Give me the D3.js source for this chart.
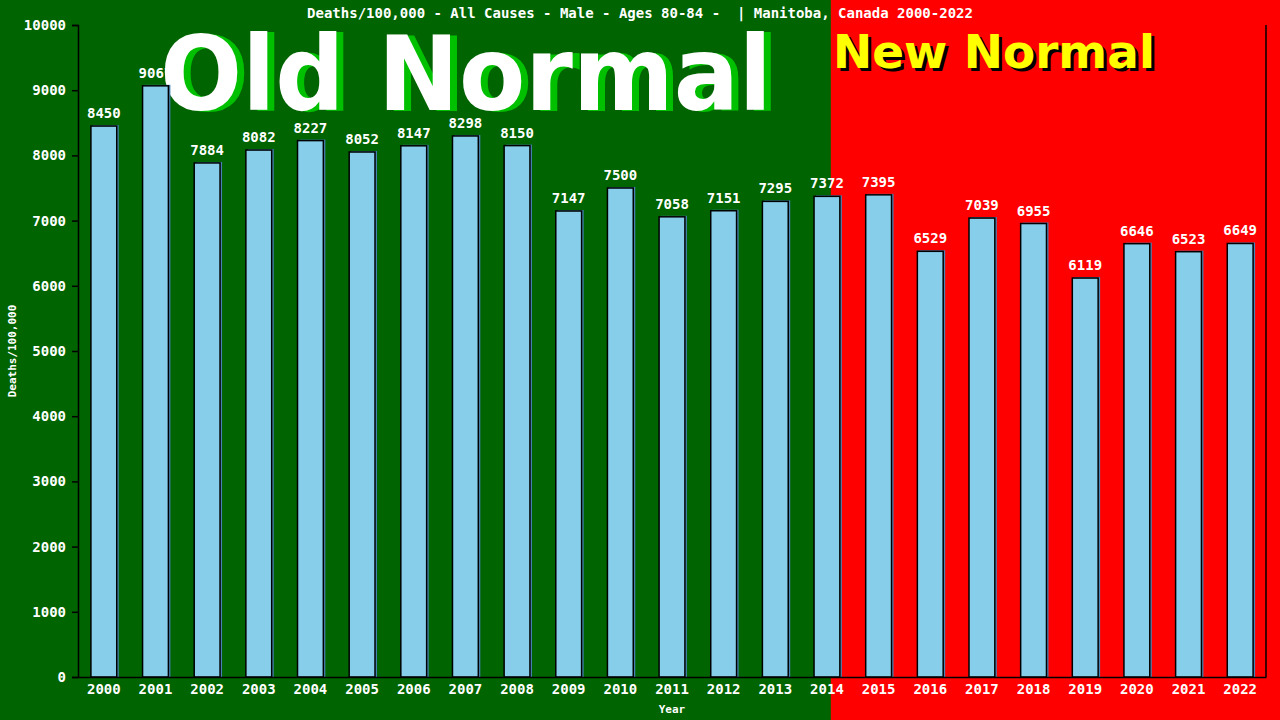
<!DOCTYPE html>
<html>
<head>
<meta charset="utf-8">
<script src="https://cdn.jsdelivr.net/npm/d3@7"></script>
<style>
  body { margin: 0; background: #006400; }
  svg { display: block; }
</style>
</head>
<body>
<div id="chart"></div>
<script>
const years = ["2000","2001","2002","2003","2004","2005","2006","2007","2008","2009","2010","2011",
               "2012","2013","2014","2015","2016","2017","2018","2019","2020","2021","2022"];
const deaths = [8450, 9067, 7884, 8082, 8227, 8052, 8147, 8298, 8150, 7147, 7500, 7058,
                7151, 7295, 7372, 7395, 6529, 7039, 6955, 6119, 6646, 6523, 6649];
const yTicks = [0, 1000, 2000, 3000, 4000, 5000, 6000, 7000, 8000, 9000, 10000];
const titleText = "Deaths/100,000 - All Causes - Male - Ages 80-84 -  | Manitoba, Canada 2000-2022";

const width = 1280;
const height = 720;
const margin = { top: 25, right: 14, bottom: 43, left: 78 };
const mono = "'DejaVu Sans Mono', monospace";

const data = years.map((y, i) => ({ year: y, value: deaths[i] }));

const x = d3.scaleBand()
    .domain(years)
    .range([margin.left, width - margin.right])
    .paddingInner(0.5)
    .paddingOuter(0.25);

const y = d3.scaleLinear()
    .domain([0, 10000])
    .range([height - margin.bottom, margin.top]);

const svg = d3.create("svg")
    .attr("width", width)
    .attr("height", height)
    .attr("viewBox", [0, 0, width, height]);

// background: old normal (green) / new normal (red)
const split = x("2014") + x.bandwidth() * 0.65;
svg.append("rect")
    .attr("x", 0).attr("y", 0)
    .attr("width", split).attr("height", height)
    .attr("fill", "#006400");
svg.append("rect")
    .attr("x", split).attr("y", 0)
    .attr("width", width - split).attr("height", height)
    .attr("fill", "#ff0000");

// value labels (drawn under the big words, like the original)
svg.append("g")
    .selectAll("text")
    .data(data)
    .join("text")
    .attr("x", d => x(d.year) + x.bandwidth() / 2)
    .attr("y", d => y(d.value) - 8)
    .attr("text-anchor", "middle")
    .attr("font-family", mono)
    .attr("font-weight", "bold")
    .attr("font-size", 14)
    .attr("fill", "#ffffff")
    .text(d => d.value);

// big overlay words
function bigWord(txt, x0, y0, size, len, fill, dx, dy, shadow) {
    [[dx, dy, shadow], [0, 0, fill]].forEach(([ox, oy, c]) => {
        svg.append("text")
            .attr("x", x0 + ox).attr("y", y0 + oy)
            .attr("font-family", "'DejaVu Sans', sans-serif")
            .attr("font-weight", "bold")
            .attr("font-size", size)
            .attr("textLength", len)
            .attr("lengthAdjust", "spacingAndGlyphs")
            .attr("fill", c)
            .text(txt);
    });
}
bigWord("Old Normal", 160, 110, 104, 612, "#ffffff", 7, 1, "#00c000");
bigWord("New Normal", 833, 68, 47, 322, "#ffff00", 3, 3, "#000000");

// title
svg.append("text")
    .attr("x", 640).attr("y", 18)
    .attr("text-anchor", "middle")
    .attr("xml:space", "preserve")
    .style("white-space", "pre")
    .attr("font-family", mono)
    .attr("font-weight", "bold")
    .attr("font-size", 14)
    .attr("fill", "#ffffff")
    .text(titleText);

// bars: shadow then body
const bars = svg.append("g");
bars.selectAll("rect.shadow")
    .data(data)
    .join("rect")
    .attr("class", "shadow")
    .attr("x", d => x(d.year) + 2)
    .attr("y", d => y(d.value) - 1)
    .attr("width", x.bandwidth())
    .attr("height", d => y(0) - y(d.value) + 1)
    .attr("fill", "#4682b4");
bars.selectAll("rect.bar")
    .data(data)
    .join("rect")
    .attr("class", "bar")
    .attr("x", d => x(d.year))
    .attr("y", d => y(d.value))
    .attr("width", x.bandwidth())
    .attr("height", d => y(0) - y(d.value))
    .attr("fill", "#87ceeb")
    .attr("stroke", "#000000")
    .attr("stroke-width", 1.5);

// y axis
const yAxis = svg.append("g")
    .attr("transform", `translate(${margin.left},0)`)
    .call(d3.axisLeft(y).tickValues(yTicks).tickSize(6).tickPadding(6).tickFormat(d3.format("d")));
yAxis.select(".domain").attr("stroke", "#000").attr("stroke-width", 1.5);
yAxis.selectAll(".tick line").attr("stroke", "#000").attr("stroke-width", 1.5);
yAxis.selectAll(".tick text")
    .attr("fill", "#ffffff")
    .attr("font-family", mono)
    .attr("font-weight", "bold")
    .attr("font-size", 14);

// x axis
const xAxis = svg.append("g")
    .attr("transform", `translate(0,${y(0)})`)
    .call(d3.axisBottom(x).tickSize(0).tickPadding(6).tickSizeOuter(0));
xAxis.select(".domain").attr("stroke", "#000").attr("stroke-width", 1.5);
xAxis.selectAll(".tick text")
    .attr("fill", "#ffffff")
    .attr("font-family", mono)
    .attr("font-weight", "bold")
    .attr("font-size", 14)
    .attr("dy", "0.75em");

// right border line
svg.append("line")
    .attr("x1", width - margin.right).attr("x2", width - margin.right)
    .attr("y1", y(10000)).attr("y2", y(0))
    .attr("stroke", "#000")
    .attr("stroke-width", 1.5);

// axis titles
svg.append("text")
    .attr("transform", `translate(16,${(y(0) + y(10000)) / 2}) rotate(-90)`)
    .attr("text-anchor", "middle")
    .attr("font-family", mono)
    .attr("font-weight", "bold")
    .attr("font-size", 11)
    .attr("fill", "#ffffff")
    .text("Deaths/100,000");

svg.append("text")
    .attr("x", (margin.left + width - margin.right) / 2)
    .attr("y", 713)
    .attr("text-anchor", "middle")
    .attr("font-family", mono)
    .attr("font-weight", "bold")
    .attr("font-size", 11)
    .attr("fill", "#ffffff")
    .text("Year");

document.getElementById("chart").append(svg.node());
</script>
</body>
</html>
